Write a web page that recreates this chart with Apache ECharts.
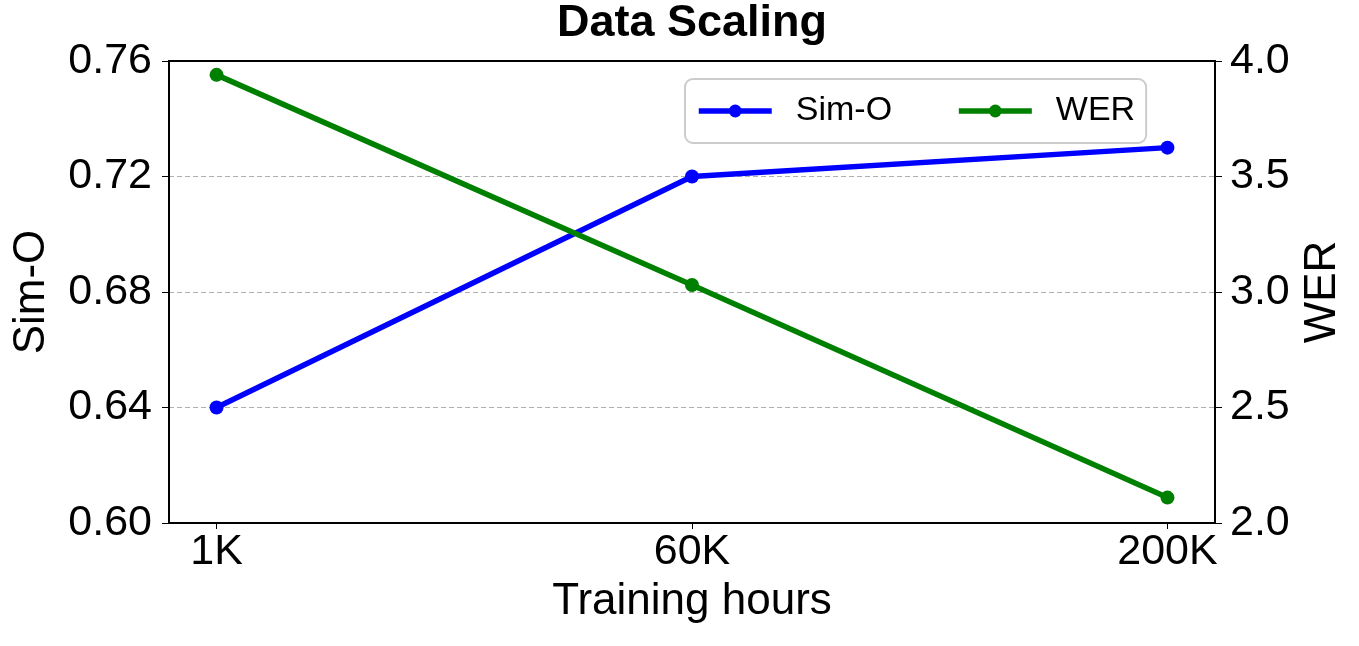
<!DOCTYPE html>
<html>
<head>
<meta charset="utf-8">
<script src="https://cdn.jsdelivr.net/npm/echarts@6/dist/echarts.min.js"></script>
<style>
  html, body { margin: 0; padding: 0; background: #fff; }
  #chart { width: 1359px; height: 646px; }
</style>
</head>
<body>
<div id="chart"></div>
<script>
// data
var categories = ['1K', '60K', '200K'];
var simO = [0.64, 0.72, 0.73];
var wer = [3.94, 3.03, 2.11];
var xTicks = [0, 1, 2];

var font = "'Liberation Sans', Arial, sans-serif";
var chart = echarts.init(document.getElementById('chart'));

function pairs(arr) {
  return arr.map(function (v, i) { return [i, v]; });
}

var option = {
  animation: false,
  title: {
    text: 'Data Scaling',
    left: 687,
    textAlign: 'center',
    top: -4,
    textStyle: { fontFamily: font, fontSize: 45, fontWeight: 'bold', color: '#000' }
  },
  // 图例
  legend: {
    data: ['Sim-O', 'WER'],
    left: 685,
    top: 79,
    padding: [15, 11, 15, 11],
    itemWidth: 73,
    itemHeight: 16,
    itemGap: 64,
    borderColor: '#cccccc',
    borderWidth: 2,
    borderRadius: 8,
    lineStyle: { width: 5.5 },
    textStyle: { fontFamily: font, fontSize: 34, color: '#000', padding: [0, 0, 0, 19] }
  },
  grid: {
    left: 169, right: 144, top: 61, bottom: 123,
    show: true, borderColor: '#000', borderWidth: 2
  },
  xAxis: {
    type: 'value',
    min: -0.1,
    max: 2.1,
    name: 'Training hours',
    nameLocation: 'middle',
    nameGap: 57,
    nameTextStyle: { fontFamily: font, fontSize: 44, color: '#000' },
    axisLine: { onZero: false, lineStyle: { color: '#000', width: 2 } },
    axisTick: { show: true, customValues: xTicks, length: 6, lineStyle: { color: '#000', width: 1 } },
    axisLabel: {
      customValues: xTicks,
      margin: 8,
      fontFamily: font, fontSize: 43, color: '#000',
      formatter: function (v) { return categories[Math.round(v)]; }
    },
    splitLine: { show: false }
  },
  yAxis: [{
    type: 'value',
    min: 0.60,
    max: 0.76,
    interval: 0.04,
    name: 'Sim-O',
    nameLocation: 'middle',
    nameGap: 115,
    nameTextStyle: { fontFamily: font, fontSize: 44, color: '#000' },
    axisLine: { show: true, onZero: false, lineStyle: { color: '#000', width: 2 } },
    axisTick: { show: true, length: 7, lineStyle: { color: '#000', width: 1 } },
    axisLabel: {
      margin: 17,
      fontFamily: font, fontSize: 43, color: '#000',
      formatter: function (v) { return v.toFixed(2); }
    },
    splitLine: {
      show: true, showMinLine: false, showMaxLine: false,
      lineStyle: { color: '#b0b0b0', type: [5, 3], width: 1 }
    }
  }, {
    type: 'value',
    position: 'right',
    min: 2.0,
    max: 4.0,
    interval: 0.5,
    name: 'WER',
    nameLocation: 'middle',
    nameRotate: 90,
    nameGap: 77,
    nameTextStyle: { fontFamily: font, fontSize: 44, color: '#000' },
    axisLine: { show: true, onZero: false, lineStyle: { color: '#000', width: 2 } },
    axisTick: { show: true, length: 7, lineStyle: { color: '#000', width: 1 } },
    axisLabel: {
      margin: 15,
      fontFamily: font, fontSize: 43, color: '#000',
      formatter: function (v) { return v.toFixed(1); }
    },
    splitLine: { show: false }
  }],
  series: [{
    name: 'Sim-O',
    type: 'line',
    yAxisIndex: 0,
    data: pairs(simO),
    symbol: 'circle',
    symbolSize: 14,
    itemStyle: { color: '#0000ff' },
    lineStyle: { color: '#0000ff', width: 5.5 }
  }, {
    name: 'WER',
    type: 'line',
    yAxisIndex: 1,
    data: pairs(wer),
    symbol: 'circle',
    symbolSize: 14,
    itemStyle: { color: '#008000' },
    lineStyle: { color: '#008000', width: 5.5 }
  }]
};

chart.setOption(option);
</script>
</body>
</html>
